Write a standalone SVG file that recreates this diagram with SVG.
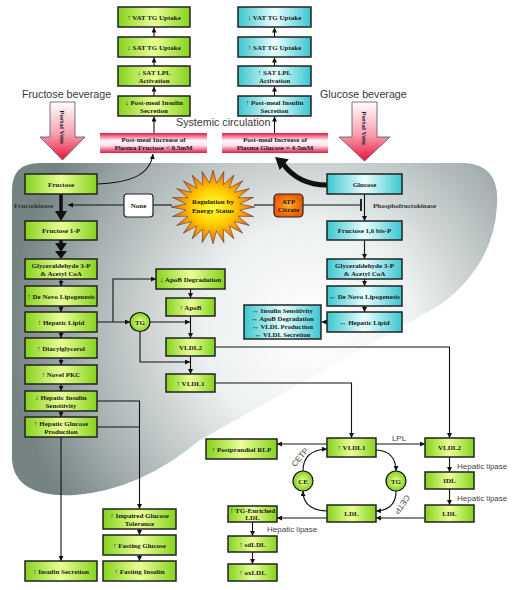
<svg xmlns="http://www.w3.org/2000/svg" width="513" height="590" viewBox="0 0 513 590">
<defs>
<radialGradient id="liver" gradientUnits="userSpaceOnUse" cx="310" cy="330" r="300">
<stop offset="0" stop-color="#ffffff"/><stop offset="0.35" stop-color="#eef1f1"/><stop offset="0.75" stop-color="#a9b3b3"/><stop offset="1" stop-color="#768383"/>
</radialGradient>
<linearGradient id="gg" x1="0" y1="0" x2="1" y2="0">
<stop offset="0" stop-color="#86d21e"/><stop offset="0.5" stop-color="#eaff96"/><stop offset="1" stop-color="#86d21e"/>
</linearGradient>
<linearGradient id="cg" x1="0" y1="0" x2="1" y2="0">
<stop offset="0" stop-color="#3cc6d0"/><stop offset="0.5" stop-color="#e8ffff"/><stop offset="1" stop-color="#3cc6d0"/>
</linearGradient>
<linearGradient id="pg" x1="0" y1="0" x2="0" y2="1">
<stop offset="0" stop-color="#e2194a"/><stop offset="0.38" stop-color="#fff4f6"/><stop offset="0.62" stop-color="#fde3ea"/><stop offset="1" stop-color="#e2194a"/>
</linearGradient>
<linearGradient id="pv" x1="0" y1="0" x2="0" y2="1">
<stop offset="0" stop-color="#ffffff"/><stop offset="0.55" stop-color="#f7a0b0"/><stop offset="1" stop-color="#e8153a"/>
</linearGradient>
<radialGradient id="cirg"><stop offset="0" stop-color="#eaff96"/><stop offset="1" stop-color="#86d21e"/></radialGradient>
<radialGradient id="org"><stop offset="0" stop-color="#ffb22e"/><stop offset="1" stop-color="#ec5a00"/></radialGradient>
<radialGradient id="sun"><stop offset="0" stop-color="#ffff40"/><stop offset="0.5" stop-color="#ffcc00"/><stop offset="0.8" stop-color="#ff8a00"/><stop offset="1" stop-color="#f03c00"/></radialGradient>
<marker id="a" viewBox="0 0 10 10" refX="10" refY="5" markerWidth="5" markerHeight="5" markerUnits="userSpaceOnUse" orient="auto"><path d="M0,0L10,5L0,10z" fill="#111"/></marker>
<style>
.g{fill:url(#gg);stroke:#222;stroke-width:1.5}
.c{fill:url(#cg);stroke:#222;stroke-width:1.5}
.p{fill:url(#pg)}
.t{font-family:"Liberation Serif",serif;font-weight:bold;font-size:7px;fill:#1a1a1a;text-anchor:middle}
.ln path{fill:none;stroke:#111;stroke-width:1.1}
.ar{marker-end:url(#a)}
.lab{font-family:"Liberation Sans",Arial,sans-serif;fill:#444;font-size:8px}
.big{font-family:"Liberation Sans",Arial,sans-serif;fill:#3a3a3a;font-size:10.7px}
.cir{fill:url(#cirg);stroke:#111;stroke-width:1.2}
</style>
</defs>
<rect width="513" height="590" fill="#ffffff"/>
<path id="liver-shape" d="M12,190Q12,163 40,163L465,163Q500,165 497,205Q494,265 440,305L200,440Q140,490 75,495Q15,498 12,460Z" fill="url(#liver)"/>

<g id="labels">
<text class="big" x="22" y="98">Fructose beverage</text>
<text class="big" x="320" y="98">Glucose beverage</text>
<text class="big" x="176" y="126">Systemic circulation</text>
<text class="t" x="14" y="208" style="text-anchor:start;fill:#333">Fructokinase</text>
<text class="t" x="373" y="208" style="text-anchor:start;fill:#333">Phosphofructokinase</text>
<text class="lab" x="399" y="441" text-anchor="middle">LPL</text>
<text class="lab" x="457" y="469">Hepatic lipase</text>
<text class="lab" x="457" y="501">Hepatic lipase</text>
<text class="lab" x="267" y="532">Hepatic lipase</text>
<text class="lab" transform="translate(302,459) rotate(-50)" text-anchor="middle">CETP</text>
<text class="lab" transform="translate(400,503) rotate(125)" text-anchor="middle">CETP</text>
</g>

<g id="portal-fructose"><polygon points="50,102 75,102 75,137 85,137 62.5,160 40,137 50,137" fill="url(#pv)" stroke="#555" stroke-width="0.8"/><text class="t" transform="translate(60,127) rotate(90)">Portal Vein</text></g>
<g id="portal-glucose"><polygon points="352,102 377,102 377,137 390,137 364.5,161 339,137 352,137" fill="url(#pv)" stroke="#555" stroke-width="0.8"/><text class="t" transform="translate(362,128) rotate(90)">Portal Vein</text></g>

<g id="connectors" class="ln">
<path class="ar" d="M154,133V116.5"/><path class="ar" d="M154,96V86.5"/><path class="ar" d="M154,66V57.5"/><path class="ar" d="M154,37V27.5"/>
<path class="ar" d="M274.5,133V116.5"/><path class="ar" d="M274.5,96V86.5"/><path class="ar" d="M274.5,66V57.5"/><path class="ar" d="M274.5,37V27.5"/>
<path class="ar" d="M97,184C128,183 150,176 153,154"/>
<path d="M327,185C305,185 292,176 283,164" style="stroke-width:5"/>
<path d="M61,194V212" style="stroke-width:3.5"/>
<path d="M61,240V250" style="stroke-width:3.5"/>
<path class="ar" d="M124,205H68"/>
<path d="M153,205H172"/><path d="M254,205H274"/><path d="M303,205H361"/><path d="M361,199V211" style="stroke-width:1.8"/>
<path class="ar" d="M364.5,194V221"/><path class="ar" d="M364.5,240V259"/><path class="ar" d="M364.5,279V286"/><path class="ar" d="M364.5,306V312"/>
<path class="ar" d="M327,322H321.5"/>
<path class="ar" d="M61,279V286"/><path class="ar" d="M61,306V312"/><path class="ar" d="M61,332V338"/><path class="ar" d="M61,358V365"/><path class="ar" d="M61,384V391"/><path class="ar" d="M61,411V417"/>
<path class="ar" d="M97,322H130"/>
<path class="ar" d="M113,322V279H156"/>
<path class="ar" d="M190.5,289V298"/>
<path class="ar" d="M150,322H190"/>
<path class="ar" d="M190.5,316V338"/>
<path class="ar" d="M140,332V362H190"/>
<path class="ar" d="M190.5,356V374"/>
<path class="ar" d="M215,347H449.5V438"/>
<path class="ar" d="M215,383H351.5V438"/>
<path class="ar" d="M97,401H139.5V509"/>
<path d="M97,427H139.5"/>
<path class="ar" d="M61,437V561"/>
<path class="ar" d="M139.5,529V535"/><path class="ar" d="M139.5,555V561"/>
<path class="ar" d="M327,444H277"/>
<path class="ar" d="M376,444H425"/>
<path class="ar" d="M449.5,457V472"/><path class="ar" d="M449.5,489V505"/>
<path class="ar" d="M425,518H376"/>
<path class="ar" d="M327,518H277"/>
<path class="ar" d="M252.5,522V536"/><path class="ar" d="M252.5,552V564"/>
<path class="ar" d="M376,450Q396,451 396,471"/>
<path class="ar" d="M396,491Q396,510 376,511"/>
<path class="ar" d="M327,511Q303,510 303,491"/>
<path class="ar" d="M303,471Q303,450 327,449"/>
</g>
<g id="thick-heads" fill="#111">
<polygon points="275,157 288.7,159.3 279.7,170.1"/>
<polygon points="55,211 67,211 61,221"/>
<polygon points="55,243 67,243 61,252"/>
<polygon points="55,251 67,251 61,259"/>
</g>

<g id="n-vat-f"><rect class="g" x="118" y="7" width="72" height="20"/><text class="t" x="154" y="19.5">↑ VAT TG Uptake</text></g>
<g id="n-sat-f"><rect class="g" x="118" y="37" width="72" height="20"/><text class="t" x="154" y="49.5">↓ SAT TG Uptake</text></g>
<g id="n-lpl-f"><rect class="g" x="118" y="66" width="72" height="20"/><text class="t" x="154" y="74.5">↓ SAT LPL</text><text class="t" x="154" y="82.5">Activation</text></g>
<g id="n-ins-f"><rect class="g" x="118" y="96" width="72" height="20"/><text class="t" x="154" y="104.5">↓ Post-meal Insulin</text><text class="t" x="154" y="112.5">Secretion</text></g>

<g id="n-vat-g"><rect class="c" x="238" y="7" width="73" height="20"/><text class="t" x="274.5" y="19.5">↓ VAT TG Uptake</text></g>
<g id="n-sat-g"><rect class="c" x="238" y="37" width="73" height="20"/><text class="t" x="274.5" y="49.5">↑ SAT TG Uptake</text></g>
<g id="n-lpl-g"><rect class="c" x="238" y="66" width="73" height="20"/><text class="t" x="274.5" y="74.5">↑ SAT LPL</text><text class="t" x="274.5" y="82.5">Activation</text></g>
<g id="n-ins-g"><rect class="c" x="238" y="96" width="73" height="20"/><text class="t" x="274.5" y="104.5">↑ Post-meal Insulin</text><text class="t" x="274.5" y="112.5">Secretion</text></g>

<g id="n-plasma-f"><rect class="p" x="100" y="133" width="107" height="20"/><text class="t" x="153.5" y="141.5">Post-meal Increase of</text><text class="t" x="153.5" y="150">Plasma Fructose &lt; 0.5mM</text></g>
<g id="n-plasma-g"><rect class="p" x="222" y="133" width="106" height="20"/><text class="t" x="275" y="141.5">Post-meal Increase of</text><text class="t" x="275" y="150">Plasma Glucose = 4-5mM</text></g>

<g id="n-fructose"><rect class="g" x="25" y="174" width="72" height="20"/><text class="t" x="61" y="186.5">Fructose</text></g>
<g id="n-f1p"><rect class="g" x="25" y="221" width="72" height="19"/><text class="t" x="61" y="233">Fructose 1-P</text></g>
<g id="n-g3p-f"><rect class="g" x="25" y="259" width="72" height="20"/><text class="t" x="61" y="267.5">Glyceraldehyde 3-P</text><text class="t" x="61" y="275.5">&amp; Acetyl CoA</text></g>
<g id="n-dnl-f"><rect class="g" x="25" y="286" width="72" height="20"/><text class="t" x="61" y="298.5">↑ De Novo Lipogenesis</text></g>
<g id="n-hl-f"><rect class="g" x="25" y="312" width="72" height="20"/><text class="t" x="61" y="324.5">↑ Hepatic Lipid</text></g>
<g id="n-dag"><rect class="g" x="25" y="338" width="72" height="20"/><text class="t" x="61" y="350.5">↑ Diacylglycerol</text></g>
<g id="n-pkc"><rect class="g" x="25" y="365" width="72" height="19"/><text class="t" x="61" y="377">↑ Novel PKC</text></g>
<g id="n-his"><rect class="g" x="25" y="391" width="72" height="20"/><text class="t" x="61" y="399.5">↓ Hepatic Insulin</text><text class="t" x="61" y="407.5">Sensitivity</text></g>
<g id="n-hgp"><rect class="g" x="25" y="417" width="72" height="20"/><text class="t" x="61" y="425.5">↑ Hepatic Glucose</text><text class="t" x="61" y="433.5">Production</text></g>
<g id="n-inssec"><rect class="g" x="25" y="561" width="72" height="20"/><text class="t" x="61" y="573.5">↑ Insulin Secretion</text></g>

<g id="n-glucose"><rect class="c" x="327" y="174" width="75" height="20"/><text class="t" x="364.5" y="186.5">Glucose</text></g>
<g id="n-f16"><rect class="c" x="327" y="221" width="75" height="19"/><text class="t" x="364.5" y="233">Fructose 1,6 bis-P</text></g>
<g id="n-g3p-g"><rect class="c" x="327" y="259" width="75" height="20"/><text class="t" x="364.5" y="267.5">Glyceraldehyde 3-P</text><text class="t" x="364.5" y="275.5">&amp; Acetyl CoA</text></g>
<g id="n-dnl-g"><rect class="c" x="327" y="286" width="75" height="20"/><text class="t" x="364.5" y="298.5">↔ De Novo Lipogenesis</text></g>
<g id="n-hl-g"><rect class="c" x="327" y="312" width="75" height="20"/><text class="t" x="364.5" y="324.5">↔ Hepatic Lipid</text></g>
<g id="n-multi"><rect class="c" x="244" y="305" width="77" height="34"/><text class="t" x="282.5" y="313" style="font-size:6.8px">↔ Insulin Sensitivity</text><text class="t" x="282.5" y="321" style="font-size:6.8px">↔ ApoB Degradation</text><text class="t" x="282.5" y="329" style="font-size:6.8px">↔ VLDL Production</text><text class="t" x="282.5" y="336.5" style="font-size:6.8px">↔ VLDL Secretion</text></g>

<g id="n-none"><rect x="124" y="194" width="29" height="23" rx="3" fill="#fff" stroke="#222" stroke-width="1.2"/><text class="t" x="138.5" y="208">None</text></g>
<g id="n-sun"><polygon points="255,207 239.8,210.1 253.6,216.6 238,216.2 249.4,225.5 234.4,221.6 242.7,233.2 229.4,226 234,239 223.3,229.2 223.9,242.7 216.5,230.8 213,244 209.5,230.8 202.1,242.7 202.7,229.2 192,239 196.6,226 183.3,233.2 191.6,221.6 176.6,225.5 188,216.2 172.4,216.6 186.2,210.1 171,207 186.2,203.9 172.4,197.4 188,197.8 176.6,188.5 191.6,192.4 183.3,180.8 196.6,188 192,175 202.7,184.8 202.1,171.3 209.5,183.2 213,170 216.5,183.2 223.9,171.3 223.3,184.8 234,175 229.4,188 242.7,180.8 234.4,192.4 249.4,188.5 238,197.8 253.6,197.4 239.8,203.9" fill="url(#sun)" stroke="#444" stroke-width="0.6"/><text class="t" x="213" y="204">Regulation by</text><text class="t" x="213" y="212.5">Energy Status</text></g>
<g id="n-atp"><rect x="274" y="194" width="29" height="23" rx="4" fill="url(#org)" stroke="#222" stroke-width="1.2"/><text class="t" x="288.5" y="203.5">ATP</text><text class="t" x="288.5" y="212">Citrate</text></g>

<g id="n-apobdeg"><rect class="g" x="156" y="269" width="69" height="20"/><text class="t" x="190.5" y="281.5">↓ ApoB Degradation</text></g>
<g id="n-apob"><rect class="g" x="166" y="298" width="49" height="18"/><text class="t" x="190.5" y="309.5">↑ ApoB</text></g>
<g id="n-vldl2-a"><rect class="g" x="166" y="338" width="49" height="18"/><text class="t" x="190.5" y="349.5">VLDL2</text></g>
<g id="n-vldl1-a"><rect class="g" x="166" y="374" width="49" height="18"/><text class="t" x="190.5" y="385.5">↑ VLDL1</text></g>
<g id="n-tg-a"><ellipse class="cir" cx="140" cy="322" rx="10" ry="9.5"/><text class="t" x="140" y="324.5">TG</text></g>

<g id="n-igt"><rect class="g" x="103" y="509" width="73" height="20"/><text class="t" x="139.5" y="517.5">↑ Impaired Glucose</text><text class="t" x="139.5" y="525.5">Tolerance</text></g>
<g id="n-fg"><rect class="g" x="103" y="535" width="73" height="20"/><text class="t" x="139.5" y="547.5">↑ Fasting Glucose</text></g>
<g id="n-fi"><rect class="g" x="103" y="561" width="73" height="20"/><text class="t" x="139.5" y="573.5">↑ Fasting Insulin</text></g>
<g id="n-rlp"><rect class="g" x="206" y="439" width="71" height="20"/><text class="t" x="241.5" y="451.5">↑ Postprandial RLP</text></g>
<g id="n-vldl1-b"><rect class="g" x="327" y="438" width="49" height="19"/><text class="t" x="351.5" y="450">↑ VLDL1</text></g>
<g id="n-vldl2-b"><rect class="g" x="425" y="438" width="49" height="19"/><text class="t" x="449.5" y="450">VLDL2</text></g>
<g id="n-idl"><rect class="g" x="425" y="472" width="49" height="17"/><text class="t" x="449.5" y="483">IDL</text></g>
<g id="n-ldl-r"><rect class="g" x="425" y="505" width="49" height="17"/><text class="t" x="449.5" y="516">LDL</text></g>
<g id="n-ldl-m"><rect class="g" x="327" y="505" width="49" height="17"/><text class="t" x="351.5" y="516">LDL</text></g>
<g id="n-ce"><ellipse class="cir" cx="303" cy="481" rx="10" ry="10"/><text class="t" x="303" y="483.5">CE</text></g>
<g id="n-tg-b"><ellipse class="cir" cx="396" cy="481" rx="10" ry="10"/><text class="t" x="396" y="483.5">TG</text></g>
<g id="n-tgldl"><rect class="g" x="228" y="506" width="49" height="16"/><text class="t" x="252.5" y="512.5">↑ TG-Enriched</text><text class="t" x="252.5" y="520">LDL</text></g>
<g id="n-sdldl"><rect class="g" x="228" y="536" width="49" height="16"/><text class="t" x="252.5" y="546.5">↑ sdLDL</text></g>
<g id="n-oxldl"><rect class="g" x="228" y="564" width="49" height="17"/><text class="t" x="252.5" y="575">↑ oxLDL</text></g>
</svg>
